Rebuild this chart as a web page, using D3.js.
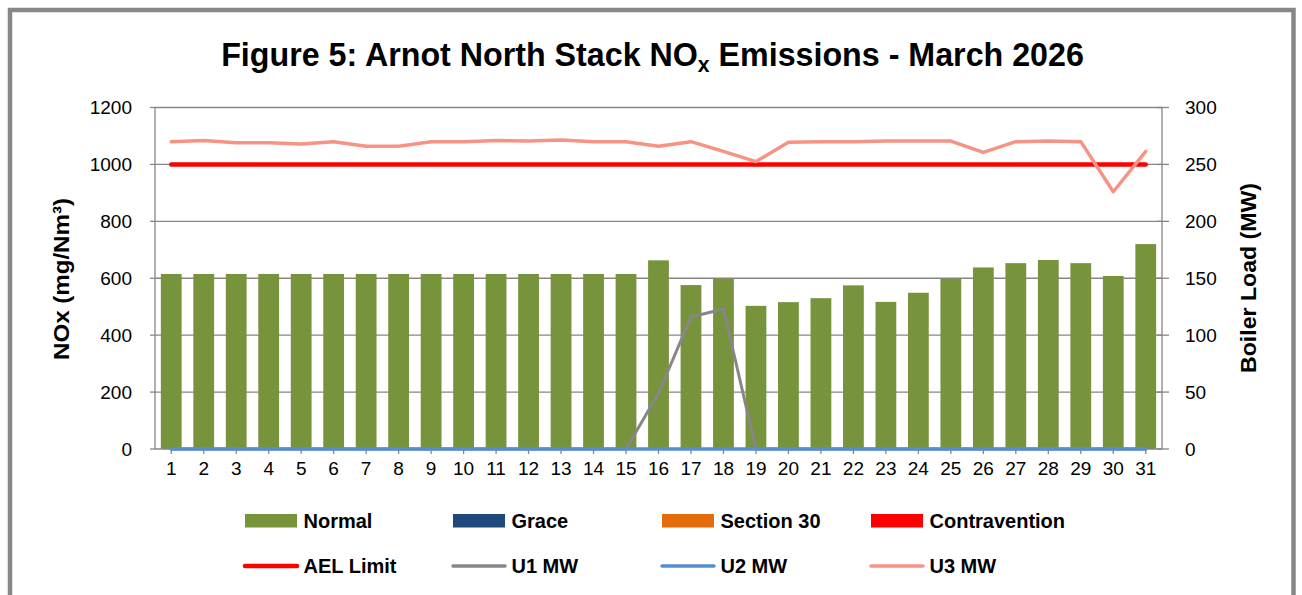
<!DOCTYPE html>
<html>
<head>
<meta charset="utf-8">
<script src="https://cdn.jsdelivr.net/npm/d3@7"></script>
<style>
  html, body { margin: 0; padding: 0; background: #fff; }
  svg { display: block; }
  text { font-family: "Liberation Sans", Arial, sans-serif; }
</style>
</head>
<body>
<svg id="chart" width="1302" height="595"></svg>
<script>
// ---------------- DATA ----------------
const days = d3.range(1, 32).map(String);
const normal = [615, 615, 615, 615, 615, 615, 615, 615, 615, 615, 615, 615, 615, 615, 615,
                663, 576, 599, 503, 516, 530, 575, 517, 549, 598, 638, 653, 664, 653, 608, 720];
const grace = new Array(31).fill(0);
const section30 = new Array(31).fill(0);
const contravention = new Array(31).fill(0);
const aelLimit = new Array(31).fill(1000);
const u1MW = [0, 0, 0, 0, 0, 0, 0, 0, 0, 0, 0, 0, 0, 0, 0,
              49, 116, 123, 0, 0, 0, 0, 0, 0, 0, 0, 0, 0, 0, 0, 0];
const u2MW = new Array(31).fill(0);
const u3MW = [270, 271, 269, 269, 268, 270, 266, 266, 270, 270, 271, 270.5, 271.5, 270, 270,
              266, 270, 261.5, 252.5, 269.5, 270, 270, 270.5, 270.5, 270.5, 260.5, 270, 270.5, 270, 226, 261.5];
const leftTicks = [0, 200, 400, 600, 800, 1000, 1200];
const rightTicks = [0, 50, 100, 150, 200, 250, 300];

const barSeries = [
  { name: "Normal", values: normal, color: "#77933C" },
  { name: "Grace", values: grace, color: "#1F497D" },
  { name: "Section 30", values: section30, color: "#E46C0A" },
  { name: "Contravention", values: contravention, color: "#FF0000" }
];
const lineSeries = [
  { name: "AEL Limit", values: aelLimit, color: "#FF0000", width: 4.5, axis: "left" },
  { name: "U1 MW", values: u1MW, color: "#878787", width: 3, axis: "right" },
  { name: "U2 MW", values: u2MW, color: "#558ED5", width: 3.5, axis: "right" },
  { name: "U3 MW", values: u3MW, color: "#F79385", width: 3.5, axis: "right" }
];

// ---------------- LAYOUT ----------------
const svg = d3.select("#chart");
const plot = { left: 155, right: 1162, top: 107.5, bottom: 449 };
const axisColor = "#868686";

// outer frame
svg.append("rect")
  .attr("x", 10).attr("y", 10).attr("width", 1283.5).attr("height", 640)
  .attr("fill", "none").attr("stroke", "#878787").attr("stroke-width", 4.5);

const x = d3.scaleBand().domain(days).range([plot.left, plot.right])
  .paddingInner(0.36).paddingOuter(0.18);
const yL = d3.scaleLinear().domain([0, 1200]).range([plot.bottom, plot.top]);
const yR = d3.scaleLinear().domain([0, 300]).range([plot.bottom, plot.top]);
const cx = d => x(d) + x.bandwidth() / 2;

// gridlines
svg.append("g").selectAll("line").data(leftTicks.filter(t => t > 0)).join("line")
  .attr("x1", plot.left).attr("x2", plot.right)
  .attr("y1", d => yL(d)).attr("y2", d => yL(d))
  .attr("stroke", axisColor).attr("stroke-width", 1.3);

// stacked bars
const stackData = days.map((d, i) => {
  const o = { day: d };
  barSeries.forEach(s => o[s.name] = s.values[i]);
  return o;
});
const stacked = d3.stack().keys(barSeries.map(s => s.name))(stackData);
svg.append("g").selectAll("g").data(stacked).join("g")
  .attr("fill", (d, i) => barSeries[i].color)
  .selectAll("rect").data(d => d).join("rect")
  .attr("x", d => x(d.data.day))
  .attr("width", x.bandwidth())
  .attr("y", d => yL(d[1]))
  .attr("height", d => Math.max(0, yL(d[0]) - yL(d[1])));

// axes lines
const axG = svg.append("g").attr("stroke", axisColor).attr("stroke-width", 1.3);
axG.append("line").attr("x1", plot.left).attr("x2", plot.left).attr("y1", plot.top).attr("y2", plot.bottom);
axG.append("line").attr("x1", plot.right).attr("x2", plot.right).attr("y1", plot.top).attr("y2", plot.bottom);
axG.append("line").attr("x1", plot.left).attr("x2", plot.right).attr("y1", plot.bottom).attr("y2", plot.bottom);
axG.selectAll(".lt").data(leftTicks).join("line")
  .attr("x1", plot.left - 5).attr("x2", plot.left).attr("y1", d => yL(d)).attr("y2", d => yL(d));
axG.selectAll(".rt").data(rightTicks).join("line")
  .attr("x1", plot.right - 5).attr("x2", plot.right + 7).attr("y1", d => yR(d)).attr("y2", d => yR(d));
axG.selectAll(".xt").data(days).join("line")
  .attr("x1", d => cx(d)).attr("x2", d => cx(d)).attr("y1", plot.bottom).attr("y2", plot.bottom + 5);

// lines
lineSeries.forEach(s => {
  const yS = s.axis === "left" ? yL : yR;
  const line = d3.line().x((v, i) => cx(days[i])).y(v => yS(v));
  svg.append("path").datum(s.values)
    .attr("d", line)
    .attr("fill", "none")
    .attr("stroke", s.color)
    .attr("stroke-width", s.width)
    .attr("stroke-linejoin", "round")
    .attr("stroke-linecap", "round");
});

// tick labels
const tickFont = 19;
svg.append("g").selectAll("text").data(leftTicks).join("text")
  .attr("x", 132).attr("y", d => yL(d)).attr("dy", "0.36em")
  .attr("text-anchor", "end").attr("font-size", tickFont).attr("fill", "#000")
  .text(d => d);
svg.append("g").selectAll("text").data(rightTicks).join("text")
  .attr("x", 1185).attr("y", d => yR(d)).attr("dy", "0.36em")
  .attr("text-anchor", "start").attr("font-size", tickFont).attr("fill", "#000")
  .text(d => d);
svg.append("g").selectAll("text").data(days).join("text")
  .attr("x", d => cx(d)).attr("y", 475)
  .attr("text-anchor", "middle").attr("font-size", tickFont).attr("fill", "#000")
  .text(d => d);

// helper: horizontally scale a text element to a target width around its anchor
function fitWidth(sel, target, ax, ay, rotate) {
  const w = sel.node().getBBox().width;
  const k = target / w;
  sel.attr("x", 0).attr("y", 0)
    .attr("transform", `translate(${ax},${ay})` + (rotate ? ` rotate(${rotate})` : "") + ` scale(${k},1)`);
}

// title
const title = svg.append("text")
  .attr("text-anchor", "middle").attr("font-size", 33.5).attr("font-weight", "bold").attr("fill", "#000");
title.append("tspan").text("Figure 5: Arnot North Stack NO");
title.append("tspan").attr("font-size", 22).attr("dy", 6).text("x");
title.append("tspan").attr("dy", -6).text(" Emissions - March 2026");
fitWidth(title, 863, 652.5, 66);

// axis titles
const ltitle = svg.append("text")
  .attr("text-anchor", "middle").attr("font-size", 22).attr("font-weight", "bold").attr("fill", "#000")
  .text("NOx (mg/Nm³)");
fitWidth(ltitle, 162, 69, 279, -90);
const rtitle = svg.append("text")
  .attr("text-anchor", "middle").attr("font-size", 22).attr("font-weight", "bold").attr("fill", "#000")
  .text("Boiler Load (MW)");
fitWidth(rtitle, 190, 1256, 278, -90);

// legend
const legX = [245, 453, 662, 871];
const legFont = 20;
const lg = svg.append("g");
barSeries.forEach((s, i) => {
  lg.append("rect").attr("x", legX[i]).attr("y", 514).attr("width", 52).attr("height", 13.5).attr("fill", s.color);
  lg.append("text").attr("x", legX[i] + 58.5).attr("y", 527.5)
    .attr("font-size", legFont).attr("font-weight", "bold").attr("fill", "#000").text(s.name);
});
lineSeries.forEach((s, i) => {
  lg.append("line").attr("x1", legX[i] - 0).attr("x2", legX[i] + 52)
    .attr("y1", 566).attr("y2", 566)
    .attr("stroke", s.color).attr("stroke-width", i === 0 ? 4.5 : 3.5).attr("stroke-linecap", "round");
  lg.append("text").attr("x", legX[i] + 58.5).attr("y", 572.5)
    .attr("font-size", legFont).attr("font-weight", "bold").attr("fill", "#000").text(s.name);
});
</script>
</body>
</html>
